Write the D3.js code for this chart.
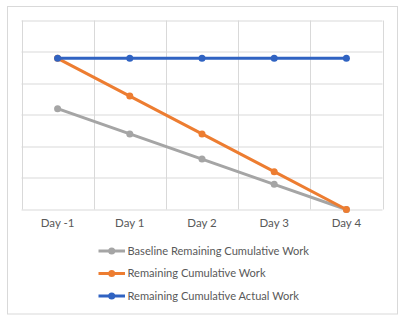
<!DOCTYPE html>
<html><head><meta charset="utf-8">
<script src="https://cdn.jsdelivr.net/npm/d3@7"></script>
<style>body{margin:0;background:#fff}svg{display:block}</style>
</head><body>
<svg id="c" width="409" height="324"></svg>
<script>
const categories = ["Day -1","Day 1","Day 2","Day 3","Day 4"];
const baseline = [3.2, 2.4, 1.6, 0.8, 0];
const remaining = [4.8, 3.6, 2.4, 1.2, 0];
const actual = [4.8, 4.8, 4.8, 4.8, 4.8];
const seriesNames = ["Baseline Remaining Cumulative Work","Remaining Cumulative Work","Remaining Cumulative Actual Work"];
const seriesColors = ["#A5A5A5","#ED7D31","#3063C2"];
const yTicks = [0,1,2,3,4,5,6];

const series = [baseline, remaining, actual];
const svg = d3.select("#c");
const font = "Lato, 'Open Sans', sans-serif";

svg.append("rect").attr("x",7.5).attr("y",6.5).attr("width",390).attr("height",307.5)
  .attr("fill","#fff").attr("stroke","#D9D9D9").attr("stroke-width",1);

const L=21.5, R=382.5, T=20.5, B=209.5;
const x = d3.scaleBand().domain(categories).range([L,R]);
const y = d3.scaleLinear().domain([0,6]).range([B,T]);

const g = svg.append("g");
g.selectAll("line.h").data(yTicks).join("line")
  .attr("x1",L).attr("x2",R).attr("y1",d=>Math.round(y(d))).attr("y2",d=>Math.round(y(d)))
  .attr("stroke","#D9D9D9").attr("stroke-width",1);
const bounds = categories.map(c=>x(c)).concat([R]);
g.selectAll("line.v").data(bounds).join("line")
  .attr("x1",d=>Math.round(d)+0.5).attr("x2",d=>Math.round(d)+0.5).attr("y1",T).attr("y2",B)
  .attr("stroke","#D9D9D9").attr("stroke-width",1);

const xAxis = d3.axisBottom(x).tickSize(0).tickPadding(9);
const ax = svg.append("g").attr("transform",`translate(0,${B})`).call(xAxis);
ax.select(".domain").remove();
ax.selectAll("text").attr("fill","#595959").style("font-family",font).style("font-size","11.5px");

const line = d3.line().x((d,i)=>x(categories[i])+x.bandwidth()/2).y(d=>y(d));
series.forEach((s,k)=>{
  svg.append("path").datum(s).attr("d",line).attr("fill","none")
    .attr("stroke",seriesColors[k]).attr("stroke-width",3).attr("stroke-linejoin","round");
  svg.append("g").selectAll("circle").data(s).join("circle")
    .attr("cx",(d,i)=>x(categories[i])+x.bandwidth()/2).attr("cy",d=>y(d)).attr("r",3.5)
    .attr("fill",seriesColors[k]);
});

const legY = [251, 273.5, 296];
seriesNames.forEach((n,k)=>{
  const lg = svg.append("g");
  lg.append("line").attr("x1",98.5).attr("x2",125).attr("y1",legY[k]).attr("y2",legY[k])
    .attr("stroke",seriesColors[k]).attr("stroke-width",3);
  lg.append("circle").attr("cx",111.7).attr("cy",legY[k]).attr("r",3.5).attr("fill",seriesColors[k]);
  lg.append("text").attr("x",127.5).attr("y",legY[k]).attr("dy","0.35em")
    .attr("fill","#595959").style("font-family",font).style("font-size","11.1px").text(n);
});
</script>
</body></html>
